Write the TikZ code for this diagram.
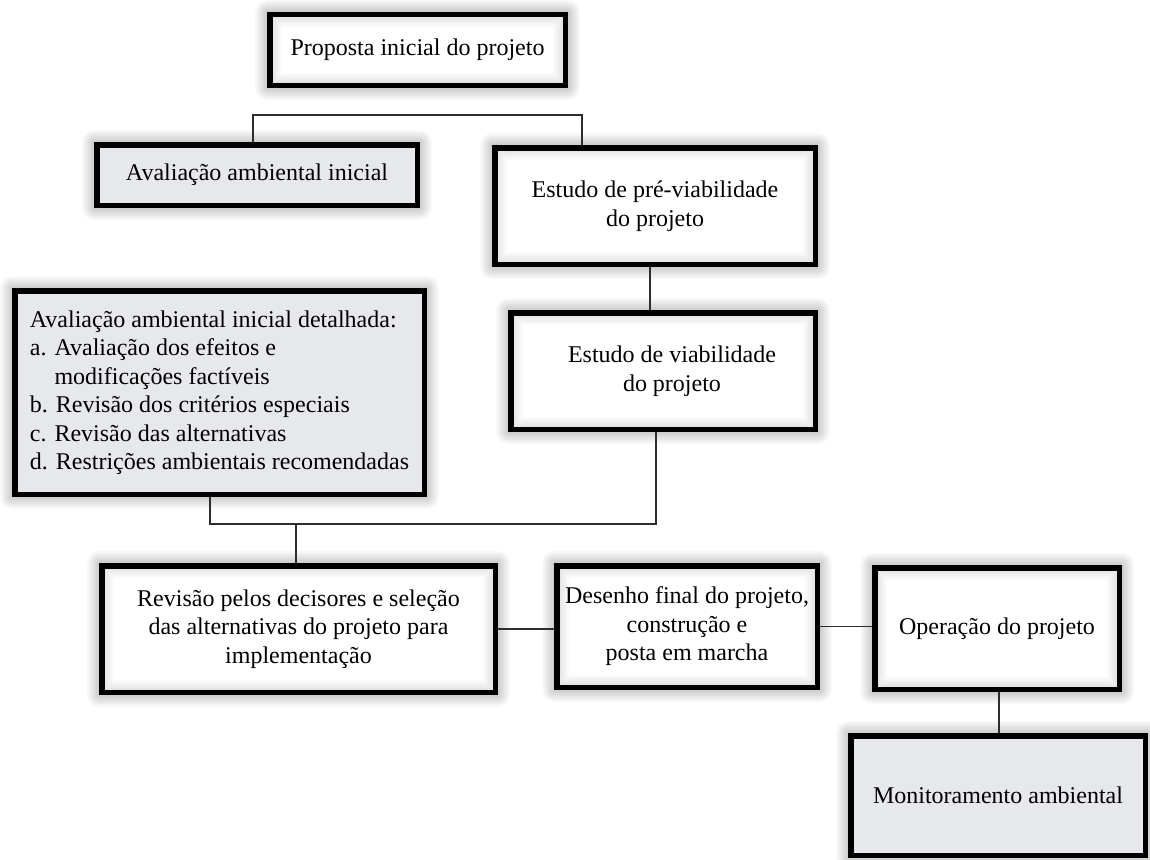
\documentclass[tikz,border=0pt]{standalone}
\usepackage{fontspec}
\setmainfont{Liberation Serif}
\usetikzlibrary{backgrounds,calc}
\definecolor{boxgray}{RGB}{230,232,235}
\definecolor{linegray}{RGB}{45,45,45}
\tikzset{
  box/.style={draw=black, line width=5.5pt, inner sep=0pt, align=center,
    font=\fontsize{24}{28.5}\selectfont},
  graybox/.style={box, fill=boxgray},
  whitebox/.style={box, fill=white,
    path picture={
      \foreach \w in {2,4,6,8,10,12} {
        \draw[black, opacity=0.018, line width=2*\w pt]
          (path picture bounding box.south west) rectangle
          (path picture bounding box.north east);
      }}},
  conn/.style={draw=linegray, line width=1.3pt},
}
\newcommand{\boxglow}[1]{%
  \foreach \k in {1.5,3,4.5,6,7.5,9,10.5,12} {
    \fill[black, opacity=0.022, rounded corners=\k pt]
      ($(#1.south west)+(-\k pt,-\k pt)$) rectangle ($(#1.north east)+(\k pt,\k pt)$);
  }}
\begin{document}
\begin{tikzpicture}[x=1pt, y=-1pt]
\useasboundingbox (0,0) rectangle (1150,859);

\node[whitebox, minimum width=295.5pt, minimum height=70.5pt] (b1) at (417.5,50) {Proposta inicial do projeto};
\node[graybox, minimum width=320.5pt, minimum height=60.5pt] (b2) at (257,175) {Avaliação ambiental inicial};
\node[whitebox, minimum width=320.5pt, minimum height=116.5pt] (b3) at (655,206) {Estudo de pré-viabilidade\\do projeto};
\node[graybox, minimum width=409.5pt, minimum height=203.5pt, align=left] (b4) at (219.5,392.5)
  {Avaliação ambiental inicial detalhada:\\
   a. Avaliação dos efeitos e\\
   \hphantom{a. }modificações factíveis\\
   b. Revisão dos critérios especiais\\
   c. Revisão das alternativas\\
   d. Restrições ambientais recomendadas};
\node[whitebox, minimum width=304.5pt, minimum height=116.5pt] (b5) at (663,371) {\hspace*{18pt}Estudo de viabilidade\\\hspace*{18pt}do projeto};
\node[whitebox, minimum width=393.5pt, minimum height=126.5pt] (b6) at (298.5,629) {Revisão pelos decisores e seleção\\das alternativas do projeto para\\implementação};
\node[whitebox, minimum width=260.5pt, minimum height=121.5pt] (b7) at (687,626.5) {Desenho final do projeto,\\construção e\\posta em marcha};
\node[whitebox, minimum width=244.5pt, minimum height=121.5pt] (b8) at (997,628.5) {Operação do projeto};
\node[graybox, minimum width=294.5pt, minimum height=119.5pt] (b9) at (998,795.5) {Monitoramento ambiental};

\coordinate (j1) at (253,115);
\coordinate (j2) at (582,115);
\coordinate (k1) at (650,0);
\coordinate (m1) at (210,524);
\coordinate (m2) at (656,524);
\coordinate (m3) at (296,524);
\coordinate (n1) at (999,0);

\begin{scope}[on background layer]
  \fill[white] (0,0) rectangle (1150,859);
  \foreach \b in {b1,b2,b3,b4,b5,b6,b7,b8,b9} {\boxglow{\b}}
  \draw[conn] (j1 |- b2.north) -- (j1) -- (j2) -- (j2 |- b3.north);
  \draw[conn] (k1 |- b3.south) -- (k1 |- b5.north);
  \draw[conn] (m1 |- b4.south) -- (m1) -- (m2) -- (m2 |- b5.south);
  \draw[conn] (m3) -- (m3 |- b6.north);
  \draw[conn] (b6.east) -- (b6.east -| b7.west);
  \draw[conn] (b7.east) -- (b7.east -| b8.west);
  \draw[conn] (n1 |- b8.south) -- (n1 |- b9.north);
\end{scope}
\end{tikzpicture}
\end{document}
